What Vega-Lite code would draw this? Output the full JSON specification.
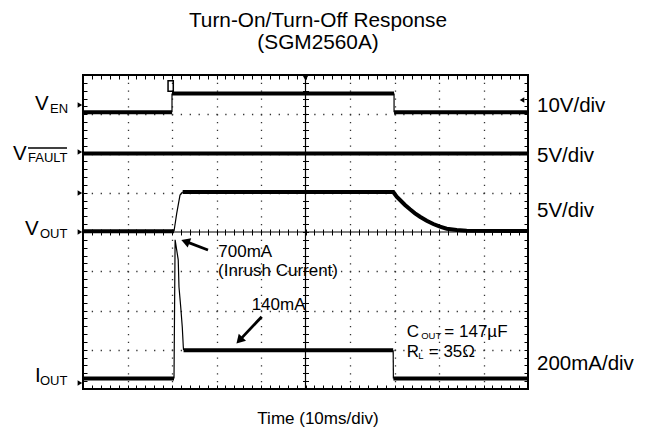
{
  "$schema": "https://vega.github.io/schema/vega-lite/v6.json",
  "width": 445,
  "height": 314,
  "autosize": {"type": "none"},
  "padding": {"left": 83, "top": 75, "right": 128, "bottom": 57},
  "background": "white",
  "config": {"view": {"stroke": "black", "strokeWidth": 2, "fill": "white"}, "font": "Liberation Sans"},
  "resolve": {"axis": {"x": "independent", "y": "independent"}},
  "datasets": {
    "traces": [
      {"trace": "VEN", "seg": "en1", "part": "level", "x": 0, "y": 7.05},
      {"trace": "VEN", "seg": "en1", "part": "level", "x": 2.0, "y": 7.05},
      {"trace": "VEN", "seg": "en2", "part": "edge", "x": 2.0, "y": 7.05},
      {"trace": "VEN", "seg": "en2", "part": "edge", "x": 2.0, "y": 7.53},
      {"trace": "VEN", "seg": "en3", "part": "level", "x": 2.0, "y": 7.53},
      {"trace": "VEN", "seg": "en3", "part": "level", "x": 6.99, "y": 7.53},
      {"trace": "VEN", "seg": "en4", "part": "edge", "x": 6.99, "y": 7.53},
      {"trace": "VEN", "seg": "en4", "part": "edge", "x": 6.99, "y": 7.05},
      {"trace": "VEN", "seg": "en5", "part": "level", "x": 6.99, "y": 7.05},
      {"trace": "VEN", "seg": "en5", "part": "level", "x": 10, "y": 7.05},
      {"trace": "VFAULT", "seg": "f1", "part": "level", "x": 0, "y": 6.0},
      {"trace": "VFAULT", "seg": "f1", "part": "level", "x": 10, "y": 6.0},
      {"trace": "VOUT", "seg": "o1", "part": "level", "x": 0, "y": 4.02},
      {"trace": "VOUT", "seg": "o1", "part": "level", "x": 2.045, "y": 4.02},
      {"trace": "VOUT", "seg": "o2", "part": "edge", "x": 2.045, "y": 4.02},
      {"trace": "VOUT", "seg": "o2", "part": "edge", "x": 2.105, "y": 4.47},
      {"trace": "VOUT", "seg": "o2", "part": "edge", "x": 2.18, "y": 4.94},
      {"trace": "VOUT", "seg": "o2", "part": "edge", "x": 2.24, "y": 5.02},
      {"trace": "VOUT", "seg": "o3", "part": "level", "x": 2.24, "y": 5.02},
      {"trace": "VOUT", "seg": "o3", "part": "level", "x": 6.973, "y": 5.02},
      {"trace": "VOUT", "seg": "o3", "part": "level", "x": 7.049, "y": 4.9},
      {"trace": "VOUT", "seg": "o3", "part": "level", "x": 7.124, "y": 4.815},
      {"trace": "VOUT", "seg": "o3", "part": "level", "x": 7.236, "y": 4.688},
      {"trace": "VOUT", "seg": "o3", "part": "level", "x": 7.348, "y": 4.578},
      {"trace": "VOUT", "seg": "o3", "part": "level", "x": 7.461, "y": 4.476},
      {"trace": "VOUT", "seg": "o3", "part": "level", "x": 7.573, "y": 4.389},
      {"trace": "VOUT", "seg": "o3", "part": "level", "x": 7.724, "y": 4.287},
      {"trace": "VOUT", "seg": "o3", "part": "level", "x": 7.872, "y": 4.204},
      {"trace": "VOUT", "seg": "o3", "part": "level", "x": 8.022, "y": 4.135},
      {"trace": "VOUT", "seg": "o3", "part": "level", "x": 8.173, "y": 4.084},
      {"trace": "VOUT", "seg": "o3", "part": "level", "x": 8.398, "y": 4.051},
      {"trace": "VOUT", "seg": "o3", "part": "level", "x": 8.622, "y": 4.033},
      {"trace": "VOUT", "seg": "o3", "part": "level", "x": 10, "y": 4.025},
      {"trace": "IOUT", "seg": "i1", "part": "level", "x": 0, "y": 0.27},
      {"trace": "IOUT", "seg": "i1", "part": "level", "x": 2.045, "y": 0.27},
      {"trace": "IOUT", "seg": "i2", "part": "edge", "x": 2.045, "y": 0.27},
      {"trace": "IOUT", "seg": "i2", "part": "edge", "x": 2.07, "y": 3.8},
      {"trace": "IOUT", "seg": "i2", "part": "edge", "x": 2.14, "y": 3.29},
      {"trace": "IOUT", "seg": "i2", "part": "edge", "x": 2.157, "y": 2.6},
      {"trace": "IOUT", "seg": "i2", "part": "edge", "x": 2.196, "y": 2.09},
      {"trace": "IOUT", "seg": "i2", "part": "edge", "x": 2.231, "y": 1.58},
      {"trace": "IOUT", "seg": "i2", "part": "edge", "x": 2.24, "y": 1.38},
      {"trace": "IOUT", "seg": "i2", "part": "edge", "x": 2.254, "y": 1.07},
      {"trace": "IOUT", "seg": "i2", "part": "edge", "x": 2.26, "y": 0.99},
      {"trace": "IOUT", "seg": "i3", "part": "level", "x": 2.26, "y": 0.99},
      {"trace": "IOUT", "seg": "i3", "part": "level", "x": 6.97, "y": 0.99},
      {"trace": "IOUT", "seg": "i4", "part": "edge", "x": 6.97, "y": 0.99},
      {"trace": "IOUT", "seg": "i4", "part": "edge", "x": 6.975, "y": 0.27},
      {"trace": "IOUT", "seg": "i5", "part": "level", "x": 6.975, "y": 0.27},
      {"trace": "IOUT", "seg": "i5", "part": "level", "x": 10, "y": 0.27}
    ],
    "labels": [
      {"kind": "main", "x": -1.079, "y": 7.108, "t": "V"},
      {"kind": "main", "x": -1.573, "y": 5.834, "t": "V"},
      {"kind": "main", "x": -1.303, "y": 3.924, "t": "V"},
      {"kind": "main", "x": -1.079, "y": 0.178, "t": "I"},
      {"kind": "main", "x": 10.202, "y": 7.057, "t": "10V/div"},
      {"kind": "main", "x": 10.202, "y": 5.783, "t": "5V/div"},
      {"kind": "main", "x": 10.202, "y": 4.382, "t": "5V/div"},
      {"kind": "main", "x": 10.202, "y": 0.484, "t": "200mA/div"},
      {"kind": "sub", "x": -0.742, "y": 7.032, "t": "EN"},
      {"kind": "sub", "x": -1.236, "y": 5.783, "t": "FAULT"},
      {"kind": "sub", "x": -0.966, "y": 3.847, "t": "OUT"},
      {"kind": "sub", "x": -0.966, "y": 0.102, "t": "OUT"},
      {"kind": "ann", "x": 3.04, "y": 3.363, "t": "700mA"},
      {"kind": "ann", "x": 3.034, "y": 2.879, "t": "(Inrush Current)"},
      {"kind": "ann", "x": 3.79, "y": 2.013, "t": "140mA"},
      {"kind": "ann", "x": 7.274, "y": 1.317, "t": "C"},
      {"kind": "ann", "x": 8.12, "y": 1.317, "t": "= 147µF"},
      {"kind": "ann", "x": 7.274, "y": 0.823, "t": "R"},
      {"kind": "ann", "x": 7.77, "y": 0.823, "t": "= 35Ω"},
      {"kind": "annsub", "x": 7.6, "y": 1.274, "t": "OUT"},
      {"kind": "annsub", "x": 7.535, "y": 0.764, "t": "L"},
      {"kind": "title", "x": 5.281, "y": 9.223, "t": "Turn-On/Turn-Off Response"},
      {"kind": "title", "x": 5.281, "y": 8.662, "t": "(SGM2560A)"},
      {"kind": "xtitle", "x": 5.28, "y": -0.892, "t": "Time (10ms/div)"}
    ],
    "arrows": [
      {"id": "a1", "x": 2.809, "y": 3.541, "x2": 2.301, "y2": 3.76},
      {"id": "a2", "x": 4.016, "y": 1.842, "x2": 3.515, "y2": 1.238}
    ],
    "markers": [
      {"kind": "left", "x": -0.07, "y": 7.236},
      {"kind": "left", "x": -0.07, "y": 6.038},
      {"kind": "left", "x": -0.07, "y": 4.994},
      {"kind": "left", "x": -0.07, "y": 4.0},
      {"kind": "left", "x": -0.07, "y": 0.153},
      {"kind": "top", "x": 5, "y": 7.93},
      {"kind": "right", "x": 9.865, "y": 7.363},
      {"kind": "trig", "x": 1.97, "y": 7.72}
    ],
    "overline": [{"x": -1.236, "x2": -0.36, "y": 6.14}]
  },
  "layer": [
    {
      "data": {"name": "traces"},
      "mark": {"type": "line", "color": "black", "strokeCap": "butt"},
      "encoding": {
        "x": {"field": "x", "type": "quantitative", "scale": {"domain": [0, 10], "nice": false, "zero": false},
          "axis": {"orient": "bottom", "values": [1, 2, 3, 4, 6, 7, 8, 9], "grid": true, "gridColor": "#333", "gridDash": [1.3, 6.55], "gridDashOffset": 0.65, "gridWidth": 1.3, "ticks": false, "labels": false, "domain": false, "title": null}},
        "y": {"field": "y", "type": "quantitative", "scale": {"domain": [0, 8], "nice": false, "zero": false},
          "axis": {"orient": "left", "values": [1, 2, 3, 5, 6, 7], "grid": true, "gridColor": "#333", "gridDash": [1.3, 7.6], "gridDashOffset": 0.65, "gridWidth": 1.3, "ticks": false, "labels": false, "domain": false, "title": null}},
        "detail": {"field": "seg"},
        "strokeWidth": {"field": "part", "type": "nominal", "scale": {"domain": ["level", "edge"], "range": [4, 1.2]}, "legend": null},
        "order": {"value": null}
      }
    },
    {
      "data": {"values": [{}]},
      "mark": {"type": "rule", "color": "black", "strokeWidth": 1.2},
      "encoding": {"x": {"datum": 5, "type": "quantitative", "axis": null}}
    },
    {
      "data": {"values": [{}]},
      "mark": {"type": "rule", "color": "black", "strokeWidth": 1.2},
      "encoding": {"y": {"datum": 4, "type": "quantitative", "axis": null}}
    },
    {
      "data": {"name": "overline"},
      "mark": {"type": "rule", "color": "black", "strokeWidth": 1.5},
      "encoding": {
        "x": {"field": "x", "type": "quantitative", "axis": null},
        "x2": {"field": "x2"},
        "y": {"field": "y", "type": "quantitative", "axis": null}
      }
    },
    {
      "data": {"name": "arrows"},
      "mark": {"type": "rule", "color": "black", "strokeWidth": 2.8},
      "encoding": {
        "x": {"field": "x", "type": "quantitative", "axis": null},
        "y": {"field": "y", "type": "quantitative", "axis": null},
        "x2": {"field": "x2"},
        "y2": {"field": "y2"}
      }
    },
    {
      "data": {"name": "arrows"},
      "transform": [{"filter": "datum.id === 'a1'"}],
      "mark": {"type": "point", "shape": "triangle-up", "filled": true, "color": "black", "opacity": 1, "size": 100, "angle": 290.6},
      "encoding": {
        "x": {"field": "x2", "type": "quantitative", "axis": null},
        "y": {"field": "y2", "type": "quantitative", "axis": null}
      }
    },
    {
      "data": {"name": "arrows"},
      "transform": [{"filter": "datum.id === 'a2'"}],
      "mark": {"type": "point", "shape": "triangle-up", "filled": true, "color": "black", "opacity": 1, "size": 100, "angle": 223.2},
      "encoding": {
        "x": {"field": "x2", "type": "quantitative", "axis": null},
        "y": {"field": "y2", "type": "quantitative", "axis": null}
      }
    },
    {
      "data": {"name": "markers"},
      "transform": [{"filter": "datum.kind === 'left'"}],
      "mark": {"type": "point", "shape": "triangle-right", "filled": true, "color": "black", "opacity": 1, "size": 28},
      "encoding": {
        "x": {"field": "x", "type": "quantitative", "axis": null},
        "y": {"field": "y", "type": "quantitative", "axis": null}
      }
    },
    {
      "data": {"name": "markers"},
      "transform": [{"filter": "datum.kind === 'top'"}],
      "mark": {"type": "point", "shape": "triangle-down", "filled": true, "color": "black", "opacity": 1, "size": 40},
      "encoding": {
        "x": {"field": "x", "type": "quantitative", "axis": null},
        "y": {"field": "y", "type": "quantitative", "axis": null}
      }
    },
    {
      "data": {"name": "markers"},
      "transform": [{"filter": "datum.kind === 'right'"}],
      "mark": {"type": "point", "shape": "triangle-left", "filled": true, "color": "black", "opacity": 1, "size": 28},
      "encoding": {
        "x": {"field": "x", "type": "quantitative", "axis": null},
        "y": {"field": "y", "type": "quantitative", "axis": null}
      }
    },
    {
      "data": {"name": "markers"},
      "transform": [{"filter": "datum.kind === 'trig'"}],
      "mark": {"type": "point", "shape": "M-0.5,-1L0.5,-1L0.5,1L-0.5,1Z", "filled": false, "color": "black", "strokeWidth": 1.5, "opacity": 1, "size": 110},
      "encoding": {
        "x": {"field": "x", "type": "quantitative", "axis": null},
        "y": {"field": "y", "type": "quantitative", "axis": null}
      }
    },
    {
      "data": {"name": "labels"},
      "transform": [{"filter": "datum.kind === 'main'"}],
      "mark": {"type": "text", "align": "left", "baseline": "alphabetic", "fontSize": 20.5, "font": "Liberation Sans", "color": "black"},
      "encoding": {
        "x": {"field": "x", "type": "quantitative",
          "axis": {"orient": "bottom", "values": [0.2,0.4,0.6,0.8,1,1.2,1.4,1.6,1.8,2,2.2,2.4,2.6,2.8,3,3.2,3.4,3.6,3.8,4,4.2,4.4,4.6,4.8,5,5.2,5.4,5.6,5.8,6,6.2,6.4,6.6,6.8,7,7.2,7.4,7.6,7.8,8,8.2,8.4,8.6,8.8,9,9.2,9.4,9.6,9.8], "offset": -4, "tickSize": 4, "tickColor": "black", "tickWidth": 1, "labels": false, "domain": false, "grid": false, "title": null}},
        "y": {"field": "y", "type": "quantitative",
          "axis": {"orient": "left", "values": [0.2,0.4,0.6,0.8,1,1.2,1.4,1.6,1.8,2,2.2,2.4,2.6,2.8,3,3.2,3.4,3.6,3.8,4,4.2,4.4,4.6,4.8,5,5.2,5.4,5.6,5.8,6,6.2,6.4,6.6,6.8,7,7.2,7.4,7.6,7.8], "offset": -4, "tickSize": 4, "tickColor": "black", "tickWidth": 1, "labels": false, "domain": false, "grid": false, "title": null}},
        "text": {"field": "t"}
      }
    },
    {
      "data": {"name": "labels"},
      "transform": [{"filter": "datum.kind === 'sub'"}],
      "mark": {"type": "text", "align": "left", "baseline": "alphabetic", "fontSize": 13, "font": "Liberation Sans", "color": "black"},
      "encoding": {
        "x": {"field": "x", "type": "quantitative",
          "axis": {"orient": "top", "values": [0.2,0.4,0.6,0.8,1,1.2,1.4,1.6,1.8,2,2.2,2.4,2.6,2.8,3,3.2,3.4,3.6,3.8,4,4.2,4.4,4.6,4.8,5,5.2,5.4,5.6,5.8,6,6.2,6.4,6.6,6.8,7,7.2,7.4,7.6,7.8,8,8.2,8.4,8.6,8.8,9,9.2,9.4,9.6,9.8], "offset": -4, "tickSize": 4, "tickColor": "black", "tickWidth": 1, "labels": false, "domain": false, "grid": false, "title": null}},
        "y": {"field": "y", "type": "quantitative",
          "axis": {"orient": "right", "values": [0.2,0.4,0.6,0.8,1,1.2,1.4,1.6,1.8,2,2.2,2.4,2.6,2.8,3,3.2,3.4,3.6,3.8,4,4.2,4.4,4.6,4.8,5,5.2,5.4,5.6,5.8,6,6.2,6.4,6.6,6.8,7,7.2,7.4,7.6,7.8], "offset": -4, "tickSize": 4, "tickColor": "black", "tickWidth": 1, "labels": false, "domain": false, "grid": false, "title": null}},
        "text": {"field": "t"}
      }
    },
    {
      "data": {"name": "labels"},
      "transform": [{"filter": "datum.kind === 'ann'"}],
      "mark": {"type": "text", "align": "left", "baseline": "alphabetic", "fontSize": 17, "font": "Liberation Sans", "color": "black"},
      "encoding": {
        "x": {"field": "x", "type": "quantitative",
          "axis": {"orient": "bottom", "values": [0.2,0.4,0.6,0.8,1,1.2,1.4,1.6,1.8,2,2.2,2.4,2.6,2.8,3,3.2,3.4,3.6,3.8,4,4.2,4.4,4.6,4.8,5,5.2,5.4,5.6,5.8,6,6.2,6.4,6.6,6.8,7,7.2,7.4,7.6,7.8,8,8.2,8.4,8.6,8.8,9,9.2,9.4,9.6,9.8], "offset": -160, "tickSize": 6, "tickColor": "black", "tickWidth": 1, "labels": false, "domain": false, "grid": false, "title": null}},
        "y": {"field": "y", "type": "quantitative",
          "axis": {"orient": "left", "values": [0.2,0.4,0.6,0.8,1,1.2,1.4,1.6,1.8,2,2.2,2.4,2.6,2.8,3,3.2,3.4,3.6,3.8,4,4.2,4.4,4.6,4.8,5,5.2,5.4,5.6,5.8,6,6.2,6.4,6.6,6.8,7,7.2,7.4,7.6,7.8], "offset": -225.5, "tickSize": 6, "tickColor": "black", "tickWidth": 1, "labels": false, "domain": false, "grid": false, "title": null}},
        "text": {"field": "t"}
      }
    },
    {
      "data": {"name": "labels"},
      "transform": [{"filter": "datum.kind === 'annsub'"}],
      "mark": {"type": "text", "align": "left", "baseline": "alphabetic", "fontSize": 9.5, "font": "Liberation Sans", "color": "black"},
      "encoding": {
        "x": {"field": "x", "type": "quantitative", "axis": null},
        "y": {"field": "y", "type": "quantitative", "axis": null},
        "text": {"field": "t"}
      }
    },
    {
      "data": {"name": "labels"},
      "transform": [{"filter": "datum.kind === 'title'"}],
      "mark": {"type": "text", "align": "center", "baseline": "alphabetic", "fontSize": 20.8, "font": "Liberation Sans", "color": "black"},
      "encoding": {
        "x": {"field": "x", "type": "quantitative", "axis": null},
        "y": {"field": "y", "type": "quantitative", "axis": null},
        "text": {"field": "t"}
      }
    },
    {
      "data": {"name": "labels"},
      "transform": [{"filter": "datum.kind === 'xtitle'"}],
      "mark": {"type": "text", "align": "center", "baseline": "alphabetic", "fontSize": 17, "font": "Liberation Sans", "color": "black"},
      "encoding": {
        "x": {"field": "x", "type": "quantitative", "axis": null},
        "y": {"field": "y", "type": "quantitative", "axis": null},
        "text": {"field": "t"}
      }
    }
  ]
}
